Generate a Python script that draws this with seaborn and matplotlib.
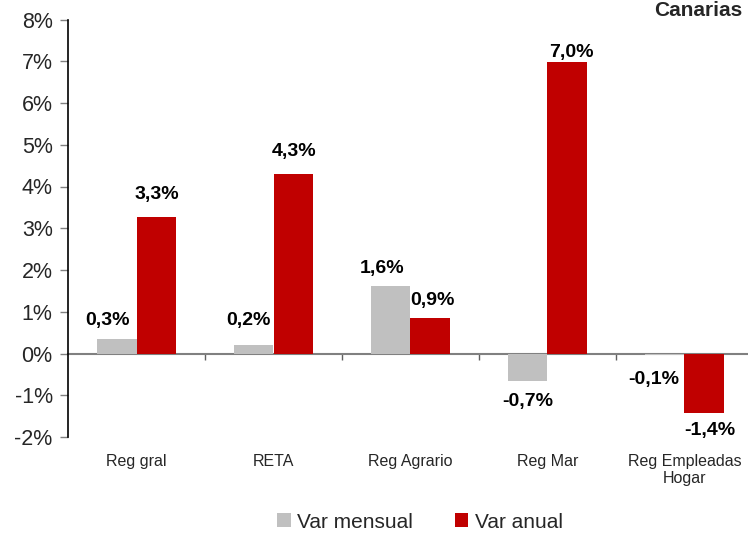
import matplotlib
matplotlib.use("Agg")
import matplotlib.pyplot as plt
from matplotlib.patches import Patch
import seaborn as sns
import pandas as pd

# ---- data ----
categories = ["Reg gral", "RETA", "Reg Agrario", "Reg Mar", "Reg Empleadas\nHogar"]
var_mensual = [0.34, 0.21, 1.61, -0.66, -0.04]
var_anual = [3.27, 4.30, 0.85, 6.98, -1.43]
labels_mensual = ["0,3%", "0,2%", "1,6%", "-0,7%", "-0,1%"]
labels_anual = ["3,3%", "4,3%", "0,9%", "7,0%", "-1,4%"]
series_names = ["Var mensual", "Var anual"]
yticks = [-2, -1, 0, 1, 2, 3, 4, 5, 6, 7, 8]
title = "Canarias"

# ---- styling ----
colors = ["#C0C0C0", "#C00000"]
# label offsets (pixels) relative to bar end
off_mensual = [(-9, 19), (-6, 24), (-9, 18), (0, -20), (-11, -24)]
off_anual = [(1, 22), (1, 22), (2, 18), (4, 10), (6, -17)]

df = pd.DataFrame({
    "cat": categories * 2,
    "serie": [series_names[0]] * 5 + [series_names[1]] * 5,
    "val": var_mensual + var_anual,
})

sns.set_style("white")
plt.rcParams["font.family"] = ["Liberation Sans", "DejaVu Sans"]

fig = plt.figure(figsize=(7.48, 5.35), dpi=100)
ax = fig.add_axes([68 / 748, 98 / 535, 685 / 748, 417.5 / 535])

sns.barplot(data=df, x="cat", y="val", hue="serie", palette=colors,
            width=0.57, gap=0, dodge=True, ax=ax, legend=False,
            saturation=1, edgecolor="none", linewidth=0)

ymin, ymax = -2, 8
ax.set_ylim(ymin, ymax)
ax.set_xlim(-0.5, 4.5)
ax.set_yticks(yticks)
ax.set_yticklabels([f"{t}%" for t in yticks], fontsize=15.5)
ax.tick_params(axis="y", length=6, width=1, color="#808080", direction="out",
               left=True, pad=5)
ax.tick_params(axis="x", length=0, pad=12, labelsize=11.5)
ax.set_xlabel("")
ax.set_ylabel("")

for s in ["top", "right", "bottom"]:
    ax.spines[s].set_visible(False)
ax.spines["left"].set_color("black")
ax.spines["left"].set_linewidth(1.2)

# zero line with category boundary ticks
zero_pos = (0 - ymin) / (ymax - ymin)
sec = ax.secondary_xaxis(zero_pos)
sec.set_xticks([0.5, 1.5, 2.5, 3.5])
sec.set_xticklabels([])
sec.tick_params(length=4, width=1, color="#606060", direction="out")
sec.spines["bottom"].set_color("#808080")
sec.spines["bottom"].set_linewidth(1.5)

# data labels
for cont, labs, offs in zip(ax.containers, [labels_mensual, labels_anual],
                            [off_mensual, off_anual]):
    for patch, lab, (dx, dy) in zip(cont.patches, labs, offs):
        x = patch.get_x() + patch.get_width() / 2
        h = patch.get_height()
        y = patch.get_y() + h
        if h < 0:
            y = min(patch.get_y(), patch.get_y() + h)
        ax.annotate(lab, xy=(x, y), xytext=(dx, dy), textcoords="offset pixels",
                    ha="center", va="center", fontsize=14, fontweight="bold",
                    color="black", annotation_clip=False)

fig.text(742 / 748, 1 - 10 / 535, title, ha="right", va="center",
         fontsize=15, fontweight="bold")

handles = [Patch(facecolor=c, edgecolor="none", label=n)
           for c, n in zip(colors, series_names)]
fig.legend(handles=handles, loc="center", bbox_to_anchor=(420 / 748, 13 / 535),
           ncol=2, frameon=False, fontsize=15, handlelength=0.65,
           handleheight=0.65, handletextpad=0.3, columnspacing=2.0)

fig.savefig("out.png", dpi=100)
